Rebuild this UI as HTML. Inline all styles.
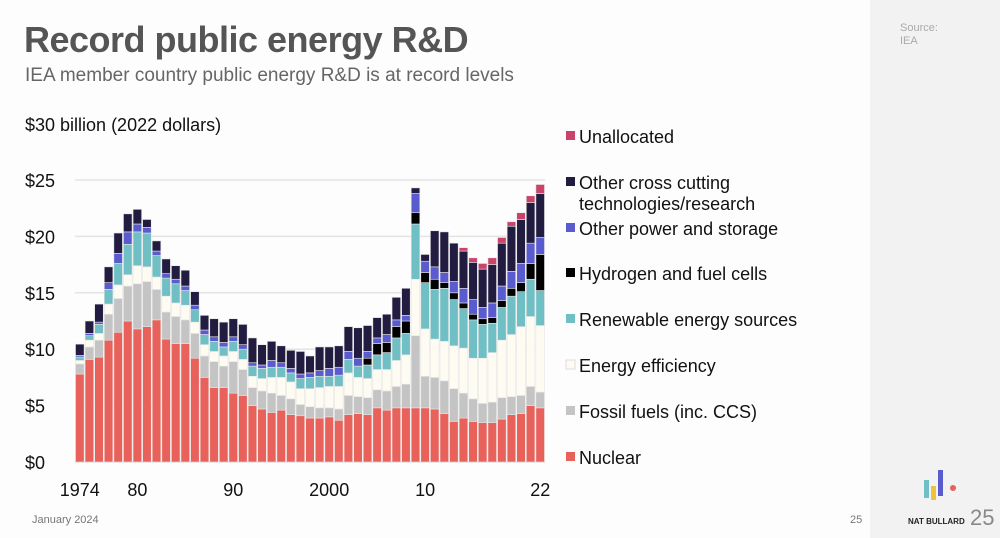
<!DOCTYPE html>
<html><head><meta charset="utf-8"><style>
body{margin:0;width:1000px;height:538px;overflow:hidden;background:#fdfdfd;font-family:"Liberation Sans",sans-serif;position:relative}
.abs{position:absolute;white-space:nowrap}
</style></head><body>
<div class="abs" style="left:870px;top:0;width:130px;height:538px;background:#f2f2f2"></div>
<div class="abs" style="left:900px;top:22px;font-size:11px;color:#aaa;line-height:13px">Source:<br>IEA</div>
<div class="abs" style="left:24px;top:19px;font-size:36px;font-weight:bold;color:#555;letter-spacing:-0.5px">Record public energy R&amp;D</div>
<div class="abs" style="left:25px;top:65px;font-size:19px;color:#666">IEA member country public energy R&amp;D is at record levels</div>
<div class="abs" style="left:32px;top:514px;font-size:11px;color:#777">January 2024</div>
<div class="abs" style="left:850px;top:514px;font-size:11px;color:#777">25</div>
<div class="abs" style="left:908px;top:517px;font-size:8px;font-weight:bold;color:#222">NAT BULLARD</div>
<div class="abs" style="left:970px;top:505px;font-size:22px;color:#888">25</div>
<svg class="abs" style="left:920px;top:468px" width="40" height="35">
<rect x="4" y="12" width="5" height="18" fill="#6fbfc4"/><rect x="11" y="18" width="5" height="14" fill="#f0c040"/><rect x="18" y="2" width="5" height="26" fill="#5b5bd0"/><circle cx="33" cy="20" r="3" fill="#e8615a"/></svg>
<svg id="chart" class="abs" style="left:0;top:0" width="870" height="538"></svg>
<script>
const years=[];for(let y=1974;y<=2022;y++)years.push(y);
const seriesNames=["Nuclear","Fossil fuels (inc. CCS)","Energy efficiency","Renewable energy sources","Hydrogen and fuel cells","Other power and storage","Other cross cutting technologies/research","Unallocated"];
const nuclear=[7.8,9.1,9.3,10.8,11.5,12.5,11.8,12.0,12.6,10.9,10.5,10.5,9.2,7.5,6.6,6.6,6.1,5.9,5.0,4.7,4.4,4.6,4.2,4.1,3.9,3.9,4.0,3.7,4.2,4.3,4.2,4.8,4.6,4.8,4.8,4.8,4.8,4.7,4.3,3.6,3.9,3.6,3.5,3.5,3.8,4.2,4.3,5.0,4.8];
const fossil=[0.9,1.1,1.5,2.3,3.0,3.1,4.0,4.0,2.7,2.4,2.4,2.1,2.2,1.9,2.3,1.9,2.8,2.3,1.6,1.6,1.7,1.3,1.4,1.0,1.0,0.9,0.8,1.0,1.7,1.5,1.5,1.6,1.7,1.9,2.1,6.4,2.8,2.8,2.9,2.9,2.2,2.0,1.7,1.8,1.9,1.6,1.6,1.7,1.4];
const efficiency=[0.3,0.6,0.6,0.9,1.2,1.0,1.6,1.3,1.1,1.4,1.2,1.3,1.0,1.0,0.9,0.9,0.9,0.9,1.0,1.1,1.4,1.6,1.5,1.4,1.6,1.8,1.9,2.0,2.0,1.7,1.7,1.8,1.9,2.3,2.6,5.0,4.2,3.4,3.5,3.8,4.0,3.6,4.0,4.4,5.1,5.5,6.1,6.2,5.9];
const renewable=[0.3,0.4,0.8,1.3,1.9,2.7,3.0,3.0,1.9,1.6,1.7,1.3,1.1,0.9,0.9,0.8,0.9,0.9,0.9,0.9,0.9,0.9,0.8,0.9,1.0,1.0,0.9,1.0,1.2,1.0,1.2,1.3,1.5,2.0,1.9,4.9,4.1,4.4,4.7,4.1,3.5,3.4,3.0,2.6,2.9,3.4,3.1,3.3,3.1];
const hydrogen=[0,0,0,0,0,0,0,0,0,0,0,0,0,0,0,0,0,0,0,0,0,0,0,0,0,0,0,0,0,0,0.6,1.0,0.9,1.0,1.1,1.0,0.9,0.9,0.5,0.6,0.5,0.5,0.5,0.5,0.6,0.7,0.8,1.4,3.2];
const otherPower=[0.15,0.2,0.2,0.6,0.9,1.1,0.7,0.5,0.4,0.4,0.4,0.4,0.4,0.4,0.4,0.4,0.4,0.4,0.3,0.3,0.6,0.4,0.4,0.4,0.4,0.5,0.7,0.7,0.7,0.7,0.6,0.5,0.7,0.6,0.5,1.7,1.0,1.1,0.9,1.0,1.3,1.3,1.0,1.3,1.3,1.5,1.7,1.8,1.5];
const crossCutting=[1.0,1.1,1.6,1.4,1.8,1.6,1.3,0.7,0.9,1.3,1.2,1.4,1.2,1.3,1.6,1.8,1.6,1.8,2.2,1.8,1.7,1.5,1.6,2.0,1.5,2.1,1.9,1.9,2.2,2.7,2.3,1.8,1.8,2.0,2.4,0.5,0.6,3.2,3.6,3.4,3.3,3.3,3.4,3.4,3.8,4.0,3.9,3.6,3.9];
const unallocated=[0,0,0,0,0,0,0,0,0,0,0,0,0,0,0,0,0,0,0,0,0,0,0,0,0,0,0,0,0,0,0,0,0,0,0,0,0,0,0,0,0.3,0.4,0.5,0.6,0.5,0.4,0.6,0.6,0.8];
const series=[nuclear,fossil,efficiency,renewable,hydrogen,otherPower,crossCutting,unallocated];
const yTicks=[0,5,10,15,20,25];
const yTickLabels=["$0","$5","$10","$15","$20","$25"];
const xTickYears=[1974,1980,1990,2000,2010,2022];
const xTickLabels=["1974","80","90","2000","10","22"];
const colors=["#e8615a","#c4c4c4","#fdfbf2","#6fbfc4","#000000","#5b5bd0","#221c40","#c9436b"];
const slugs=["nuclear","fossil","efficiency","renewable","hydrogen","other-power","cross-cutting","unallocated"];
const svg=document.getElementById('chart');const NS="http://www.w3.org/2000/svg";
const x0=75,pitch=470/49,yBase=462,pxPer=11.28;
const xS=i=>x0+i*pitch;const yS=v=>yBase-v*pxPer;
function mk(t,a){const e=document.createElementNS(NS,t);for(const k in a)e.setAttribute(k,a[k]);svg.appendChild(e);return e;}
yTicks.forEach((v,i)=>{
 const l=mk('line',{x1:75,x2:545,y1:yS(v),y2:yS(v),stroke:i==0?'#ddd':'#e3e3e3','stroke-width':1.5});
 
 
 const t=mk('text',{x:25,y:yS(v)+7,'font-size':18,fill:'#111'});t.textContent=yTickLabels[i];
 
 
});
const ya=mk('text',{x:25,y:131,'font-size':18,fill:'#111'});ya.textContent="$30 billion (2022 dollars)";


years.forEach((yr,i)=>{let acc=0;
 series.forEach((s,k)=>{const v=s[i];if(v<=0)return;
  const r=mk('rect',{x:xS(i)+0.5,y:yS(acc+v),width:pitch-1,height:v*pxPer,fill:colors[k],stroke:'#e6e6e6','stroke-width':0.6});
  
  
  acc+=v;});
});
xTickYears.forEach((yr,i)=>{const t=mk('text',{x:xS(yr-1974)+pitch/2,y:496,'font-size':18,fill:'#111','text-anchor':'middle'});t.textContent=xTickLabels[i];
 
 });
const legY=[[137],[183,204],[229],[274],[320],[366],[412],[458]];
const legText=[["Unallocated"],["Other cross cutting","technologies/research"],["Other power and storage"],["Hydrogen and fuel cells"],["Renewable energy sources"],["Energy efficiency"],["Fossil fuels (inc. CCS)"],["Nuclear"]];
const legColor=[7,6,5,4,3,2,1,0];
legY.forEach((ys,i)=>{const c=colors[legColor[i]];
 const r=mk('rect',{x:566,y:ys[0]-6,width:9,height:9,fill:c,stroke:legColor[i]==2?'#ddd':'none'});
 
 
 ys.forEach((y,j)=>{const t=mk('text',{x:579,y:y+6,'font-size':18,fill:'#111'});t.textContent=legText[i][j];
  
  });
});
</script>
</body></html>
